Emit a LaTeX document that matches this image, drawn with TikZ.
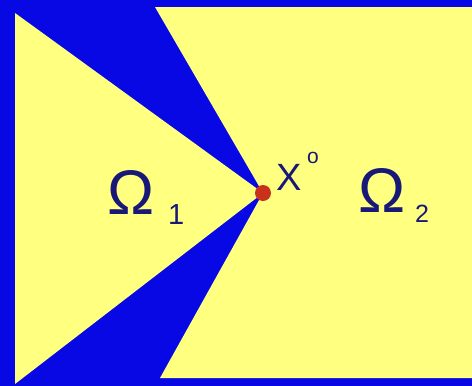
\documentclass[tikz,border=0pt]{standalone}
\usepackage{fontspec}
\setmainfont{Liberation Sans}
\definecolor{bgblue}{RGB}{8,8,228}
\definecolor{paleyellow}{RGB}{255,255,128}
\definecolor{inkblue}{RGB}{24,24,120}
\definecolor{dotred}{RGB}{200,50,28}
\begin{document}
\begin{tikzpicture}[x=1pt,y=-1pt,
  lbl/.style={inner sep=0pt,anchor=base west,text=inkblue}]
\useasboundingbox (0,0) rectangle (472,386);
\fill[bgblue] (0,0) rectangle (472,386);
\coordinate (apex) at (263,193);
% right region
\fill[paleyellow] (155,7) -- (472,7) -- (472,378) -- (160,378) -- (apex) -- cycle;
% left region
\fill[paleyellow] (15,13) -- (apex) -- (15,384) -- cycle;
\fill[dotred] (apex) circle (8);
\node[lbl,font=\fontsize{63}{63}\selectfont] (om1) at (107,214) {Ω};
\node[lbl,font=\fontsize{29}{29}\selectfont] (s1) at (168,224) {1};
\node[lbl,font=\fontsize{63}{63}\selectfont] (om2) at (358,212) {Ω};
\node[lbl,font=\fontsize{25}{25}\selectfont] (s2) at (415,222) {2};
\node[lbl,font=\fontsize{38}{38}\selectfont] (x) at (276,190) {X};
\node[lbl,font=\fontsize{21}{21}\selectfont] (o) at (307,163) {o};
\end{tikzpicture}
\end{document}
